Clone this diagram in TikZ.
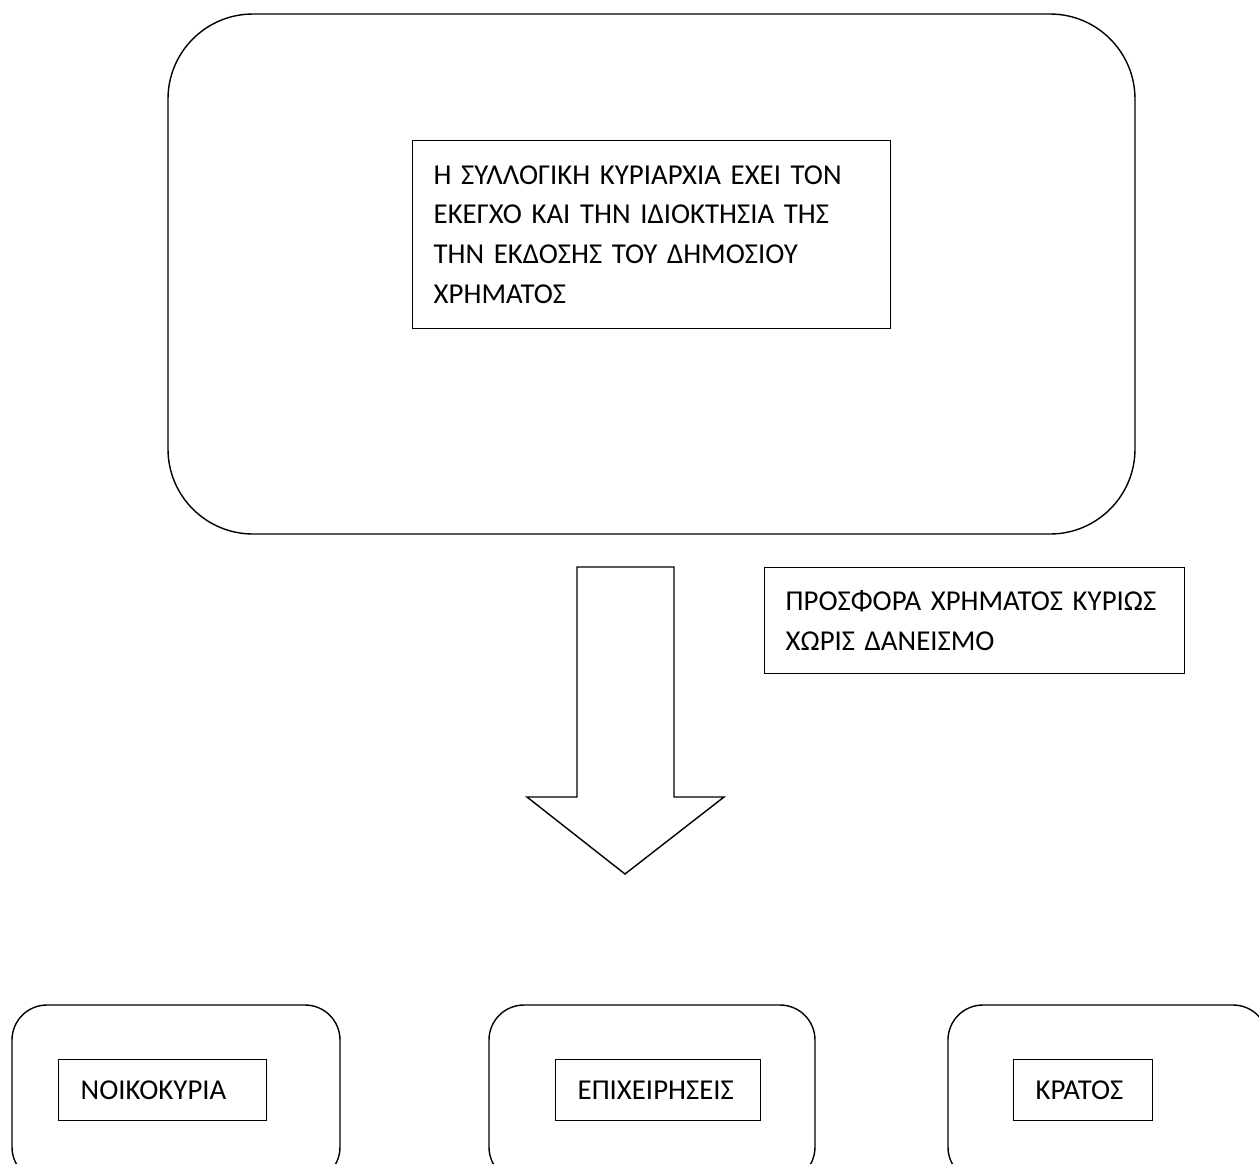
\documentclass[tikz,border=0pt]{standalone}
\usepackage{fontspec}
\setmainfont{Carlito}
\usepackage{tikz}

\begin{document}
\begin{tikzpicture}[x=0.02cm,y=-0.02cm,line width=0.8pt,
	txtbox/.style={draw,anchor=north west,align=left,inner xsep=0.42cm,inner ysep=0pt,font=\fontsize{16.4}{22.7}\selectfont},
	outerbox/.style={draw,rounded corners=0.7cm}]
	\useasboundingbox (0,0) rectangle (1259,1164);
	\clip (0,0) rectangle (1259,1164);
			% top part
			\draw[rounded corners=1.7cm] (168,14) rectangle (1135,534);
			\node[txtbox,minimum width=9.56cm,minimum height=3.76cm,text width=8.72cm] (kyriarxia) at (412,140)
				{Η ΣΥΛΛΟΓΙΚΗ ΚΥΡΙΑΡΧΙΑ ΕΧΕΙ ΤΟΝ\\ ΕΚΕΓΧΟ ΚΑΙ ΤΗΝ ΙΔΙΟΚΤΗΣΙΑ ΤΗΣ\\ ΤΗΝ ΕΚΔΟΣΗΣ ΤΟΥ ΔΗΜΟΣΙΟΥ\\ ΧΡΗΜΑΤΟΣ};
			% arrow
			\draw (577,567) -- (674,567) -- (674,797) -- (724,797) -- (625,874)
				-- (527,797) -- (577,797) -- cycle;
			\node[txtbox,minimum width=8.4cm,minimum height=2.12cm,text width=7.56cm] (prosfora) at (764,567)
				{ΠΡΟΣΦΟΡΑ ΧΡΗΜΑΤΟΣ ΚΥΡΙΩΣ\\ ΧΩΡΙΣ ΔΑΝΕΙΣΜΟ};
			% bottom part
			\draw[outerbox] (12,1005) rectangle (340,1182);
			\draw[outerbox] (489,1005) rectangle (815,1182);
			\draw[outerbox] (948,1005) rectangle (1268,1182);
			\node[txtbox,minimum width=4.16cm,minimum height=1.22cm,text width=3.28cm] (noikokyria) at (58,1059) {ΝΟΙΚΟΚΥΡΙΑ};
			\node[txtbox,minimum width=4.1cm,minimum height=1.22cm,text width=3.22cm] (epixeiriseis) at (555,1059) {ΕΠΙΧΕΙΡΗΣΕΙΣ};
			\node[txtbox,minimum width=2.78cm,minimum height=1.22cm,text width=1.9cm] (kratos) at (1013,1059) {ΚΡΑΤΟΣ};
\end{tikzpicture}
\end{document}
